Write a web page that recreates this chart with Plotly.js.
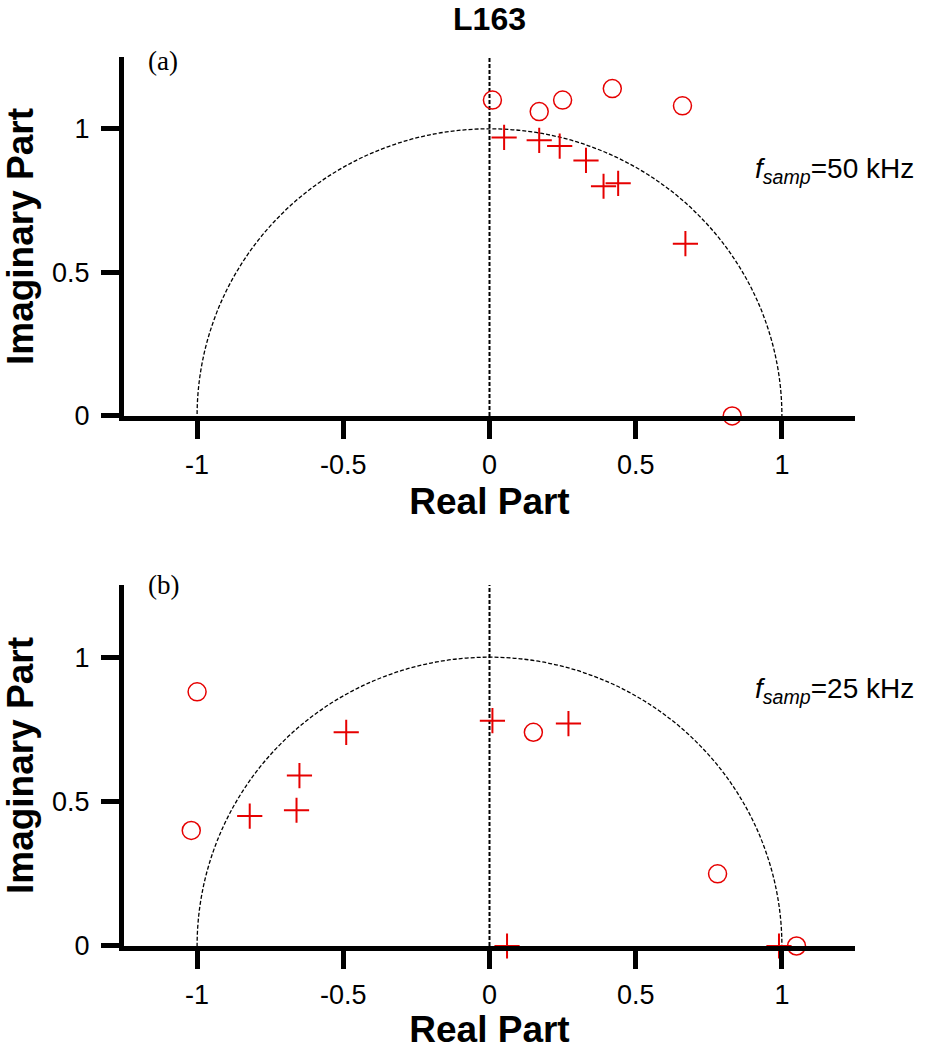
<!DOCTYPE html>
<html>
<head>
<meta charset="utf-8">
<script src="https://cdn.plot.ly/plotly-3.0.1.min.js"></script>
<style>
    html, body { margin: 0; padding: 0; background: #fff; }
    #chart { width: 930px; height: 1050px; }
</style>
</head>
<body>
<div id="chart"></div>
<script>
// (a) fsamp = 50 kHz : zeros (circles) and poles (crosses)
const zerosReA = [0.01, 0.17, 0.25, 0.42, 0.66, 0.83];
const zerosImA = [1.10, 1.06, 1.10, 1.14, 1.08, 0.00];
const polesReA = [0.05, 0.17, 0.24, 0.33, 0.39, 0.44, 0.67];
const polesImA = [0.97, 0.96, 0.94, 0.89, 0.80, 0.81, 0.60];

// (b) fsamp = 25 kHz
const zerosReB = [-1.00, -1.02, 0.15, 0.78, 1.05];
const zerosImB = [0.88, 0.40, 0.74, 0.25, 0.00];
const polesReB = [-0.82, -0.66, -0.65, -0.49, 0.01, 0.27, 0.06, 0.99];
const polesImB = [0.45, 0.47, 0.59, 0.74, 0.78, 0.77, 0.00, 0.00];

const xTickVals = [-1, -0.5, 0, 0.5, 1];
const xTickText = ['-1', '-0.5', '0', '0.5', '1'];
const yTickVals = [0, 0.5, 1];
const yTickText = ['0', '0.5', '1'];
const panelLabels = ['(a)', '(b)'];
const sampleRates = ['50 kHz', '25 kHz'];
const chartTitle = 'L163';

const RED = '#e60000';
const SANS = 'Liberation Sans, Arial, sans-serif';

function zeroTrace(x, y, n) {
    return {
        x: x, y: y, type: 'scatter', mode: 'markers',
        xaxis: n === 1 ? 'x' : 'x2', yaxis: n === 1 ? 'y' : 'y2',
        cliponaxis: false, showlegend: false, hoverinfo: 'x+y',
        marker: { symbol: 'circle-open', size: 18, color: RED, line: { color: RED, width: 1.5 } }
    };
}

function poleTrace(x, y, n) {
    return {
        x: x, y: y, type: 'scatter', mode: 'markers',
        xaxis: n === 1 ? 'x' : 'x2', yaxis: n === 1 ? 'y' : 'y2',
        cliponaxis: false, showlegend: false, hoverinfo: 'x+y',
        marker: { symbol: 'cross-thin-open', size: 18, color: RED, line: { color: RED, width: 2 } }
    };
}

function xAxis(anchor) {
    return {
        anchor: anchor, domain: [0, 1],
        range: [-1.25, 1.25],
        tickmode: 'array', tickvals: xTickVals, ticktext: xTickText,
        ticks: 'outside', ticklen: 18, tickwidth: 5, tickcolor: '#000',
        ticklabelstandoff: 3,
        showline: true, linewidth: 5, linecolor: '#000',
        showgrid: false, zeroline: false,
        tickfont: { family: SANS, size: 27, color: '#000' },
        title: { text: '<b>Real Part</b>', font: { family: SANS, size: 37, color: '#000' }, standoff: 10 }
    };
}

function yAxis(anchor, domain) {
    return {
        anchor: anchor, domain: domain,
        range: [0, 1.25],
        tickmode: 'array', tickvals: yTickVals, ticktext: yTickText,
        ticks: 'outside', ticklen: 18, tickwidth: 5, tickcolor: '#000',
        ticklabelstandoff: 6,
        showline: true, linewidth: 5, linecolor: '#000',
        showgrid: false, zeroline: false,
        tickfont: { family: SANS, size: 27, color: '#000' },
        title: { text: '<b>Imaginary Part</b>', font: { family: SANS, size: 37, color: '#000' }, standoff: 10 }
    };
}

// unit circle and imaginary axis guide, per panel (clipped to the upper half by the y range)
function guides(xr, yr) {
    return [
        { type: 'circle', xref: xr, yref: yr, x0: -1, x1: 1, y0: -1, y1: 1, layer: 'below',
          line: { color: '#000', width: 1.3, dash: '4px,2px' } },
        { type: 'line', xref: xr, yref: yr, x0: 0, x1: 0, y0: 0, y1: 1.25, layer: 'below',
          line: { color: '#000', width: 2, dash: '4px,2px' } }
    ];
}

function sampLabel(rate, yPaper) {
    return {
        xref: 'paper', yref: 'paper', x: 0.9726, y: yPaper, xanchor: 'center', yanchor: 'middle',
        showarrow: false,
        text: '<i>f</i><sub><i>samp</i></sub>=' + rate,
        font: { family: SANS, size: 28, color: '#000' }
    };
}

function panelLabel(text, yPaper) {
    return {
        xref: 'paper', yref: 'paper', x: 0.0534, y: yPaper, xanchor: 'center', yanchor: 'middle',
        showarrow: false, text: text,
        font: { family: 'Liberation Serif, Times New Roman, serif', size: 27, color: '#000' }
    };
}

const data = [
    zeroTrace(zerosReA, zerosImA, 1),
    poleTrace(polesReA, polesImA, 1),
    zeroTrace(zerosReB, zerosImB, 2),
    poleTrace(polesReB, polesImB, 2)
];

const layout = {
    width: 930, height: 1050,
    margin: { l: 124, r: 75, t: 57, b: 104 },
    paper_bgcolor: '#fff', plot_bgcolor: '#fff',
    title: {
        text: '<b>' + chartTitle + '</b>',
        font: { family: SANS, size: 32, color: '#000' },
        x: 0.5, xref: 'paper', y: 0.993, yref: 'container', yanchor: 'top', pad: { t: 0 }
    },
    xaxis: xAxis('y'),
    yaxis: yAxis('x', [0.5962, 1]),
    xaxis2: xAxis('y2'),
    yaxis2: yAxis('x2', [0, 0.4061]),
    shapes: guides('x', 'y').concat(guides('x2', 'y2')),
    annotations: [
        panelLabel(panelLabels[0], 0.9955),
        panelLabel(panelLabels[1], 0.406),
        sampLabel(sampleRates[0], 0.872),
        sampLabel(sampleRates[1], 0.287)
    ]
};

Plotly.newPlot('chart', data, layout, { displayModeBar: false, staticPlot: true });
</script>
</body>
</html>
